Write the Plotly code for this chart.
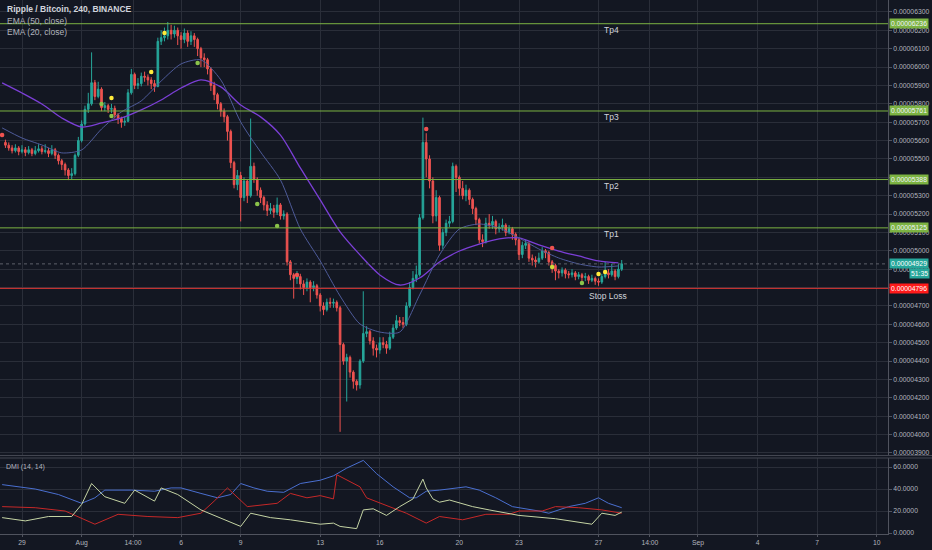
import pandas as pd
import plotly.graph_objects as go

# ---------------- data (prices in satoshi, 1e-8 BTC) ----------------
candle_start = "2018-07-28 04:00"
first_open = 5590
closes = [
    5575, 5560, 5545, 5560, 5540, 5550,
    5535, 5550, 5530, 5545, 5555, 5540,
    5545, 5530, 5550, 5520, 5490, 5470,
    5440, 5410, 5420, 5520, 5600, 5690,
    5770, 5800, 5915, 5840, 5880, 5780,
    5790, 5770, 5775, 5740, 5720, 5700,
    5705, 5860, 5960, 5900, 5910, 5950,
    5945, 5930, 5910, 5895, 6140, 6160,
    6170, 6200, 6180, 6200, 6170, 6150,
    6185, 6140, 6170, 6150, 6100, 6050,
    6040, 5990, 5900, 5850, 5800, 5760,
    5730, 5650, 5480, 5360, 5410, 5290,
    5380, 5300, 5460, 5390, 5330, 5290,
    5250, 5220, 5230, 5210, 5250, 5190,
    5200, 4940, 4870, 4850, 4860, 4820,
    4800, 4830, 4800, 4810, 4760, 4700,
    4680, 4720, 4715, 4720, 4690, 4490,
    4400, 4420, 4340, 4290, 4270, 4400,
    4550, 4560, 4510, 4470, 4460, 4500,
    4490, 4470, 4530, 4580, 4620, 4610,
    4600, 4700, 4800, 4850, 4870, 5180,
    5590, 5500, 5380, 5190, 5290, 5030,
    5100, 5150, 5160, 5460, 5400, 5340,
    5300, 5330, 5280, 5230, 5170, 5060,
    5050, 5150, 5140, 5160, 5120, 5130,
    5140, 5100, 5120, 5090, 5060, 4980,
    5030, 5040, 4960, 4950, 4940, 4960,
    5000, 4990, 4940, 4920, 4890, 4880,
    4895, 4875, 4870, 4880, 4860, 4870,
    4855, 4860, 4840, 4850, 4835, 4830,
    4860, 4880, 4870, 4890, 4860, 4900,
    4929,
]
highs = [
    5605, 5590, 5575, 5580, 5570, 5575,
    5565, 5570, 5560, 5570, 5580, 5570,
    5580, 5560, 5575, 5560, 5530, 5500,
    5480, 5450, 5450, 5530, 5620, 5710,
    5790, 5860, 6080, 5930, 5920, 5890,
    5810, 5800, 5800, 5790, 5750, 5730,
    5730, 5880, 5990, 5970, 5940, 5970,
    5975, 5960, 5945, 5930, 6160, 6200,
    6215, 6245, 6230, 6225, 6215, 6190,
    6210, 6200, 6195, 6185, 6160, 6110,
    6075, 6050, 6000, 5920, 5860, 5810,
    5775, 5740, 5660, 5490, 5440, 5430,
    5400, 5390, 5720, 5480, 5400, 5345,
    5300, 5270, 5260, 5250, 5290, 5260,
    5220, 5210, 4950, 4880, 4890, 4875,
    4840, 4850, 4840, 4835, 4820, 4770,
    4720, 4740, 4745, 4740, 4730, 4700,
    4500, 4440, 4430, 4350, 4300, 4410,
    4780, 4590, 4570, 4530, 4490, 4530,
    4530, 4510, 4560, 4600, 4650, 4640,
    4640, 4720, 4830, 4890, 4920, 5200,
    5725, 5640, 5520, 5400, 5330, 5300,
    5120, 5170, 5190, 5480, 5470, 5410,
    5380, 5360, 5340, 5290, 5240, 5180,
    5090, 5180, 5200, 5190, 5170, 5150,
    5175, 5150, 5140, 5130, 5100, 5070,
    5050, 5060, 5050, 4980, 4970, 4990,
    5020, 5010, 5000, 4950, 4930, 4900,
    4910, 4905, 4890, 4900, 4890, 4885,
    4880, 4880, 4870, 4870, 4860, 4850,
    4875, 4940, 4900, 4930, 4900, 4930,
    4950,
]
lows = [
    5560, 5545, 5530, 5535, 5520, 5530,
    5515, 5525, 5515, 5520, 5535, 5525,
    5530, 5510, 5520, 5500, 5470, 5440,
    5410, 5385, 5390, 5410, 5510, 5590,
    5680, 5750, 5790, 5820, 5830, 5760,
    5760, 5750, 5750, 5720, 5690, 5670,
    5680, 5700, 5850, 5880, 5880, 5895,
    5920, 5900, 5880, 5865, 5890, 6120,
    6140, 6150, 6150, 6160, 6120, 6100,
    6130, 6110, 6120, 6110, 6060, 6000,
    6000, 5960, 5870, 5820, 5770, 5730,
    5700, 5600, 5450, 5340, 5330, 5160,
    5270, 5260, 5290, 5370, 5300, 5260,
    5220, 5190, 5200, 5180, 5195, 5170,
    5170, 4920, 4840, 4740, 4820, 4790,
    4760, 4780, 4720, 4780, 4740, 4670,
    4650, 4670, 4690, 4690, 4670, 4015,
    4380, 4180, 4310, 4250, 4240, 4250,
    4390, 4530, 4490, 4430, 4420, 4440,
    4470, 4440, 4460, 4520, 4570, 4590,
    4580, 4590, 4690, 4790, 4830, 4860,
    5170, 5400, 5340, 5150, 5160, 5000,
    5010, 5080, 5130, 5150, 5320, 5300,
    5280, 5270, 5250, 5200, 5140, 5040,
    5020, 5040, 5120, 5120, 5090, 5100,
    5110, 5080, 5090, 5060, 5030, 4950,
    4960, 5010, 4940, 4920, 4910, 4930,
    4950, 4960, 4920, 4880, 4840, 4850,
    4860, 4850, 4850, 4855, 4840, 4845,
    4830, 4835, 4820, 4830, 4815, 4810,
    4820, 4850, 4850, 4860, 4840, 4850,
    4890,
]

ema_start = "2018-07-28"
ema50 = [5914, 5859, 5799, 5723, 5674, 5696, 5723, 5767, 5821, 5886, 5930,
         5892, 5794, 5729, 5630, 5451, 5277, 5103, 4978, 4869, 4814, 4852,
         4939, 4999, 5037, 5065, 5070, 5032, 4999, 4972, 4945, 4934]
ema20 = [5669, 5614, 5576, 5533, 5549, 5663, 5756, 5816, 5924, 6017, 6039,
         5930, 5701, 5538, 5386, 5119, 4945, 4754, 4602, 4558, 4558, 4760,
         4978, 5119, 5146, 5124, 5070, 5010, 4961, 4929, 4912, 4918]

dot_times = ["2018-07-28 00:00", "2018-08-02 00:00", "2018-08-02 12:00", "2018-08-02 12:00",
             "2018-08-04 12:00", "2018-08-05 04:00", "2018-08-06 20:00", "2018-08-09 20:00",
             "2018-08-10 20:00", "2018-08-11 20:00", "2018-08-18 08:00", "2018-08-24 16:00",
             "2018-08-24 16:00", "2018-08-26 04:00", "2018-08-27 00:00", "2018-08-27 08:00"]
dot_prices = [5630, 5799, 5832, 5734, 5973, 6186, 6022, 5255, 5135, 4869, 5663, 5016,
              4912, 4825, 4874, 4885]
dot_colors = ["#ef5350", "#8bc34a", "#ffeb3b", "#8bc34a", "#ffeb3b", "#ffeb3b", "#8bc34a",
              "#8bc34a", "#8bc34a", "#ef5350", "#ef5350", "#ef5350", "#cddc39", "#8bc34a",
              "#ffeb3b", "#ffeb3b"]

adx_times = ["2018-07-28 00:00", "2018-07-29 16:00", "2018-07-30 20:00", "2018-07-31 16:00",
             "2018-08-01 00:00", "2018-08-01 16:00", "2018-08-02 04:00", "2018-08-03 12:00",
             "2018-08-04 16:00", "2018-08-05 12:00", "2018-08-06 00:00", "2018-08-07 00:00",
             "2018-08-07 20:00", "2018-08-08 12:00", "2018-08-09 00:00", "2018-08-09 16:00",
             "2018-08-10 08:00", "2018-08-11 04:00", "2018-08-12 00:00", "2018-08-13 00:00",
             "2018-08-13 16:00", "2018-08-14 08:00", "2018-08-15 04:00", "2018-08-15 20:00",
             "2018-08-16 16:00", "2018-08-17 12:00", "2018-08-17 20:00", "2018-08-18 08:00",
             "2018-08-19 00:00", "2018-08-20 08:00", "2018-08-21 00:00", "2018-08-21 20:00",
             "2018-08-22 16:00", "2018-08-24 00:00", "2018-08-24 12:00", "2018-08-25 12:00",
             "2018-08-26 08:00", "2018-08-27 00:00", "2018-08-27 12:00", "2018-08-28 04:00"]
adx_vals = [44, 40, 35, 29, 27, 32, 39, 39, 38, 41, 41, 36, 32, 35, 45, 41, 38, 37, 45, 48,
            52, 59, 66, 54, 42, 32, 32, 38, 39, 42, 39, 32, 24, 20, 18, 24, 27, 32, 27, 23]

mdi_times = ["2018-07-28 00:00", "2018-07-29 16:00", "2018-07-31 04:00", "2018-08-01 16:00",
             "2018-08-02 20:00", "2018-08-04 08:00", "2018-08-05 20:00", "2018-08-07 00:00",
             "2018-08-07 16:00", "2018-08-08 08:00", "2018-08-09 08:00", "2018-08-10 20:00",
             "2018-08-11 12:00", "2018-08-12 08:00", "2018-08-13 00:00", "2018-08-13 16:00",
             "2018-08-13 20:00", "2018-08-14 08:00", "2018-08-15 00:00", "2018-08-15 08:00",
             "2018-08-16 08:00", "2018-08-17 08:00", "2018-08-18 08:00", "2018-08-19 00:00",
             "2018-08-20 04:00", "2018-08-21 08:00", "2018-08-22 12:00", "2018-08-23 00:00",
             "2018-08-24 04:00", "2018-08-24 20:00", "2018-08-26 00:00", "2018-08-27 04:00",
             "2018-08-27 20:00", "2018-08-28 04:00"]
mdi_vals = [24, 23, 20, 8, 17, 15, 14, 18, 29, 41, 24, 27, 36, 32, 34, 31, 53, 48, 42, 32,
            25, 18, 9, 15, 12, 17, 17, 20, 20, 24, 23, 21, 19, 18]

pdi_times = ["2018-07-28 00:00", "2018-07-29 04:00", "2018-07-30 08:00", "2018-07-31 12:00",
             "2018-08-01 00:00", "2018-08-01 12:00", "2018-08-02 04:00", "2018-08-03 04:00",
             "2018-08-03 16:00", "2018-08-04 16:00", "2018-08-05 00:00", "2018-08-05 20:00",
             "2018-08-07 00:00", "2018-08-08 04:00", "2018-08-09 00:00", "2018-08-09 12:00",
             "2018-08-10 12:00", "2018-08-11 12:00", "2018-08-13 00:00", "2018-08-13 16:00",
             "2018-08-14 00:00", "2018-08-14 20:00", "2018-08-15 04:00", "2018-08-15 16:00",
             "2018-08-16 08:00", "2018-08-17 00:00", "2018-08-17 16:00", "2018-08-18 04:00",
             "2018-08-18 08:00", "2018-08-18 16:00", "2018-08-19 00:00", "2018-08-19 12:00",
             "2018-08-20 16:00", "2018-08-21 12:00", "2018-08-23 00:00", "2018-08-24 20:00",
             "2018-08-26 16:00", "2018-08-27 04:00", "2018-08-27 20:00", "2018-08-28 04:00"]
pdi_vals = [14, 11, 15, 15, 26, 45, 33, 27, 39, 29, 41, 35, 21, 12, 6, 18, 14, 12, 8, 9,
            6, 4, 21, 22, 16, 24, 31, 49, 41, 31, 28, 30, 24, 21, 16, 13, 8, 18, 16, 19]

tp_names = ["Tp1", "Tp2", "Tp3", "Tp4"]
tp_levels = [5125, 5388, 5761, 6236]
stop_level = 4796
last_price = 4929
countdown = "51:35"

price_ticks = list(range(3900, 6301, 100))
hidden_ticks = [4800, 5400]   # fully covered by the level boxes in the reference
dmi_ticks = [0, 20, 40, 60]
x_tick_times = ["2018-07-29 00:00", "2018-08-01 00:00", "2018-08-03 14:00", "2018-08-06 00:00",
                "2018-08-09 00:00", "2018-08-13 00:00", "2018-08-16 00:00", "2018-08-20 00:00",
                "2018-08-23 00:00", "2018-08-27 00:00", "2018-08-29 14:00", "2018-09-01 00:00",
                "2018-09-04 00:00", "2018-09-07 00:00", "2018-09-10 00:00"]
x_tick_text = ["29", "Aug", "14:00", "6", "9", "13", "16", "20", "23", "27", "14:00",
               "Sep", "4", "7", "10"]

# ---------------- styling ----------------
BG = "#131722"
GRID = "#2a2e39"
AXIS = "#50535e"
TXT = "#b2b5be"
FONT = "Liberation Sans"
UP, DOWN = "#26a69a", "#ef5350"
TP_COLOR = "#7cb342"
W, H, R, B = 932, 550, 44, 16
PW, PH = W - R, H - B


def px(xp):
    return xp / PW


def py(yp):
    return 1 - yp / PH


times = pd.date_range(candle_start, periods=len(closes), freq="4h")
opens = [first_open] + closes[:-1]
ema_dates = pd.date_range(ema_start, periods=len(ema50), freq="D")

fig = go.Figure()
fig.add_trace(go.Candlestick(
    x=times, open=opens, high=highs, low=lows, close=closes,
    increasing=dict(line=dict(color=UP, width=1), fillcolor=UP),
    decreasing=dict(line=dict(color=DOWN, width=1), fillcolor=DOWN),
    whiskerwidth=0, showlegend=False, xaxis="x", yaxis="y"))
fig.add_trace(go.Scatter(x=ema_dates, y=ema50, mode="lines",
                         line=dict(color="#7b3fd6", width=1.3, shape="spline", smoothing=0.8),
                         showlegend=False, xaxis="x", yaxis="y"))
fig.add_trace(go.Scatter(x=ema_dates, y=ema20, mode="lines",
                         line=dict(color="#4e5b9a", width=1, shape="spline", smoothing=0.7),
                         showlegend=False, xaxis="x", yaxis="y"))
fig.add_trace(go.Scatter(x=dot_times, y=dot_prices, mode="markers",
                         marker=dict(color=dot_colors, size=4.5), showlegend=False, xaxis="x", yaxis="y"))

fig.add_trace(go.Scatter(x=adx_times, y=adx_vals, mode="lines",
                         line=dict(color="#4a6fd0", width=1), showlegend=False, xaxis="x2", yaxis="y2"))
fig.add_trace(go.Scatter(x=mdi_times, y=mdi_vals, mode="lines",
                         line=dict(color="#c62828", width=1), showlegend=False, xaxis="x2", yaxis="y2"))
fig.add_trace(go.Scatter(x=pdi_times, y=pdi_vals, mode="lines",
                         line=dict(color="#c5d4a4", width=1), showlegend=False, xaxis="x2", yaxis="y2"))

x_range = ["2018-07-27 21:26", "2018-09-10 13:28"]
tickfont = dict(family=FONT, size=6.8, color=TXT)
price_ticktext = ["" if v in hidden_ticks else f"{v / 1e8:.8f}" for v in price_ticks]

fig.update_layout(
    width=W, height=H, margin=dict(l=0, r=R, t=0, b=B),
    paper_bgcolor=BG, plot_bgcolor=BG, showlegend=False,
    font=dict(family=FONT, color=TXT),
    xaxis=dict(domain=[0, 1], anchor="y", range=x_range, type="date",
               tickvals=x_tick_times, showticklabels=False,
               showgrid=True, gridcolor=GRID, gridwidth=1, zeroline=False,
               rangeslider=dict(visible=False), showline=False),
    xaxis2=dict(domain=[0, 1], anchor="y2", range=x_range, type="date", matches="x",
                tickvals=x_tick_times, ticktext=x_tick_text, tickfont=tickfont,
                showgrid=True, gridcolor=GRID, zeroline=False, ticks="outside", ticklen=2,
                tickcolor=AXIS, showline=True, linecolor=AXIS, linewidth=1),
    yaxis=dict(domain=[py(455), 1], side="right", range=[3889, 6365],
               tickvals=price_ticks, ticktext=price_ticktext,
               tickfont=tickfont, showgrid=True, gridcolor=GRID, zeroline=False,
               ticks="outside", ticklen=3, tickcolor=AXIS, showline=True, linecolor=AXIS),
    yaxis2=dict(domain=[0, py(458)], side="right", range=[-0.9, 68.2],
                tickvals=dmi_ticks, ticktext=[f"{v:.4f}" for v in dmi_ticks],
                tickfont=tickfont, showgrid=True, gridcolor=GRID, zeroline=False,
                ticks="outside", ticklen=3, tickcolor=AXIS, showline=True, linecolor=AXIS),
)

shapes = []
for lvl in tp_levels:
    shapes.append(dict(type="line", xref="paper", yref="y", x0=0, x1=1, y0=lvl, y1=lvl,
                       line=dict(color=TP_COLOR, width=1)))
shapes.append(dict(type="line", xref="paper", yref="y", x0=0, x1=1, y0=stop_level, y1=stop_level,
                   line=dict(color="#e53935", width=1)))
shapes.append(dict(type="line", xref="paper", yref="y", x0=0, x1=1, y0=last_price, y1=last_price,
                   line=dict(color="#5d606b", width=1, dash="dot")))
for yy in (455.5, 458):
    shapes.append(dict(type="line", xref="paper", yref="paper", x0=0, x1=W / PW, y0=py(yy), y1=py(yy),
                       line=dict(color="#434651", width=1)))
fig.update_layout(shapes=shapes)

ann = []
ann.append(dict(text="<b>Ripple / Bitcoin, 240, BINANCE</b>", x=px(5), y=py(9), xref="paper", yref="paper",
                xanchor="left", yanchor="middle", showarrow=False, font=dict(family=FONT, size=8.5, color="#d1d4dc")))
ann.append(dict(text="EMA (50, close)", x=px(5), y=py(21), xref="paper", yref="paper",
                xanchor="left", yanchor="middle", showarrow=False, font=dict(family=FONT, size=8.5, color=TXT)))
ann.append(dict(text="EMA (20, close)", x=px(5), y=py(32), xref="paper", yref="paper",
                xanchor="left", yanchor="middle", showarrow=False, font=dict(family=FONT, size=8.5, color=TXT)))
ann.append(dict(text="DMI (14, 14)", x=px(4), y=py(467), xref="paper", yref="paper",
                xanchor="left", yanchor="middle", showarrow=False, font=dict(family=FONT, size=7, color=TXT)))
for name, lvl in zip(tp_names, tp_levels):
    ann.append(dict(text=name, x="2018-08-27 04:00", y=lvl, xref="x", yref="y", xanchor="left",
                    yanchor="top", yshift=1, showarrow=False, font=dict(family=FONT, size=8.5, color="#d1d4dc")))
    ann.append(dict(text=f"{lvl / 1e8:.8f}", x=1, y=lvl, xref="paper", yref="y", xanchor="left",
                    yanchor="middle", xshift=1, showarrow=False, bgcolor=TP_COLOR, borderpad=1,
                    font=dict(family=FONT, size=6.8, color="#f0f3fa")))
ann.append(dict(text="Stop Loss", x="2018-08-26 10:00", y=stop_level, xref="x", yref="y", xanchor="left",
                yanchor="top", yshift=-1, showarrow=False, font=dict(family=FONT, size=8.5, color="#d1d4dc")))
ann.append(dict(text=f"{stop_level / 1e8:.8f}", x=1, y=stop_level, xref="paper", yref="y", xanchor="left",
                yanchor="middle", xshift=1, showarrow=False, bgcolor="#ff1a1a", borderpad=1,
                font=dict(family=FONT, size=6.8, color="#ffffff")))
ann.append(dict(text=f"{last_price / 1e8:.8f}", x=1, y=last_price, xref="paper", yref="y", xanchor="left",
                yanchor="middle", xshift=1, showarrow=False, bgcolor=UP, borderpad=1,
                font=dict(family=FONT, size=6.8, color="#ffffff")))
ann.append(dict(text=countdown, x=W / PW, y=last_price, xref="paper", yref="y", xanchor="right",
                yanchor="top", xshift=-2, yshift=-4, showarrow=False, bgcolor=UP, borderpad=1,
                font=dict(family=FONT, size=6.8, color="#ffffff")))
fig.update_layout(annotations=ann)

fig.write_html("out.html", config={"displayModeBar": False},
               post_script="document.body.style.margin='0';document.body.style.padding='0';"
                           "document.body.style.background='#131722';")
